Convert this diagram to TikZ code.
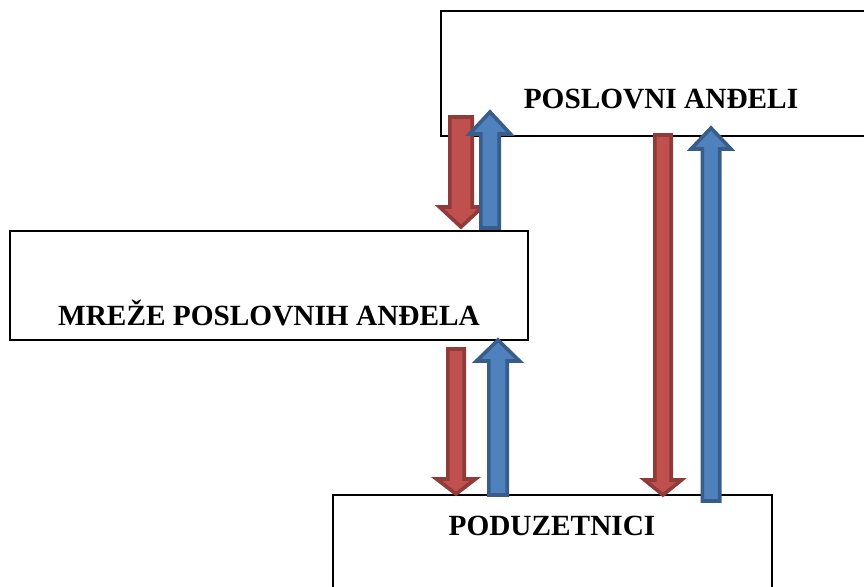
\documentclass[tikz,border=0pt]{standalone}
\usepackage{fontspec}
\setmainfont{Liberation Serif}
\definecolor{redfill}{HTML}{C0504D}
\definecolor{redline}{HTML}{8E3B39}
\definecolor{bluefill}{HTML}{4F81BD}
\definecolor{blueline}{HTML}{385D8A}
\newcommand{\barrow}[7]{%
  \draw[#1] ({#2-#5},#3) -- ({#2-#5},#7) -- ({#2-#6},#7) -- (#2,#4)
    -- ({#2+#6},#7) -- ({#2+#5},#7) -- ({#2+#5},#3) -- cycle;}
\begin{document}
\begin{tikzpicture}[x=1pt,y=-1pt,
  box/.style={draw=black,line width=2pt,fill=white,inner sep=0pt,anchor=north west},
  lbl/.style={anchor=base,inner sep=0pt,font=\fontsize{29.3}{35}\selectfont\bfseries},
  redarr/.style={fill=redfill,draw=redline,line width=3.6pt,line join=miter},
  bluearr/.style={fill=bluefill,draw=blueline,line width=3.6pt,line join=miter}]
\useasboundingbox (0,0) rectangle (864,586);
\clip (0,0) rectangle (864,586);
\node[box,minimum width=450pt,minimum height=125pt] (pa) at (440,10) {};
\node[box,minimum width=518pt,minimum height=109pt] (mpa) at (9,229.5) {};
\node[box,minimum width=439pt,minimum height=120pt] (pod) at (332,494) {};
\node[lbl] (tpa) at (661,108) {POSLOVNI ANĐELI};
\node[lbl] (tmpa) at (269,325) {MREŽE POSLOVNIH ANĐELA};
\node[lbl] (tpod) at (552,535) {PODUZETNICI};
% arrows between POSLOVNI ANDELI and MREZE
\barrow{redarr}{461}{117}{227}{11.2}{21.5}{207}
\barrow{bluearr}{490}{228}{112}{9.2}{20.5}{134}
% arrows between MREZE and PODUZETNICI
\barrow{redarr}{456}{349}{494}{8.2}{19.5}{479}
\barrow{bluearr}{498}{495}{340}{9.2}{21.5}{361}
% arrows between POSLOVNI ANDELI and PODUZETNICI
\barrow{redarr}{663}{135}{495}{8.2}{18.5}{480}
\barrow{bluearr}{711}{501}{128}{8.7}{20}{149}
\end{tikzpicture}
\end{document}
